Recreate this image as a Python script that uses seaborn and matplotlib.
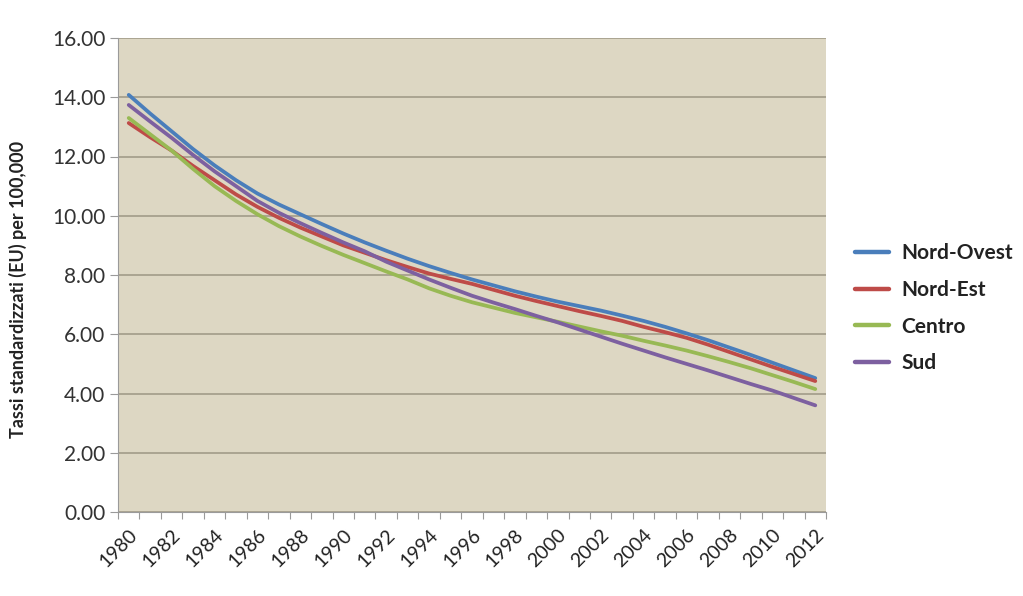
import matplotlib
matplotlib.use("Agg")
import matplotlib.pyplot as plt
import seaborn as sns
import pandas as pd
import numpy as np

years = list(range(1980, 2013))
nord_ovest = [14.08, 13.45, 12.85, 12.25, 11.7, 11.2, 10.75, 10.38, 10.05, 9.72, 9.4,
              9.1, 8.82, 8.55, 8.3, 8.07, 7.85, 7.65, 7.45, 7.27, 7.1, 6.95, 6.8,
              6.63, 6.45, 6.25, 6.03, 5.8, 5.55, 5.3, 5.04, 4.78, 4.52]
nord_est = [13.13, 12.65, 12.2, 11.68, 11.2, 10.72, 10.3, 9.93, 9.6, 9.3, 9.0,
            8.75, 8.5, 8.27, 8.05, 7.87, 7.7, 7.5, 7.3, 7.12, 6.95, 6.78, 6.62,
            6.45, 6.25, 6.07, 5.88, 5.65, 5.4, 5.15, 4.9, 4.66, 4.42]
centro = [13.3, 12.75, 12.2, 11.58, 11.0, 10.5, 10.05, 9.65, 9.3, 8.98, 8.68,
          8.4, 8.12, 7.85, 7.55, 7.3, 7.08, 6.9, 6.72, 6.57, 6.42, 6.26, 6.1,
          5.95, 5.78, 5.62, 5.45, 5.26, 5.06, 4.85, 4.62, 4.39, 4.15]
sud = [13.74, 13.18, 12.63, 12.05, 11.5, 11.0, 10.5, 10.1, 9.75, 9.42, 9.1,
       8.8, 8.45, 8.15, 7.85, 7.57, 7.3, 7.07, 6.85, 6.62, 6.4, 6.16, 5.92,
       5.68, 5.45, 5.22, 5.0, 4.78, 4.55, 4.32, 4.1, 3.85, 3.6]
series_names = ["Nord-Ovest", "Nord-Est", "Centro", "Sud"]
colors = ["#4a7ebb", "#be4b48", "#98b954", "#7d60a0"]
y_ticks = [0, 2, 4, 6, 8, 10, 12, 14, 16]
x_labels = list(range(1980, 2013, 2))
y_title = "Tassi standardizzati (EU) per 100,000"

df = pd.DataFrame({
    "year": years * 4,
    "value": nord_ovest + nord_est + centro + sud,
    "region": sum([[n] * len(years) for n in series_names], []),
})

sns.set_theme(style="white")
plt.rcParams["font.family"] = ["Lato", "DejaVu Sans"]

fig = plt.figure(figsize=(10.23, 5.96), dpi=100)
ax = fig.add_axes([118 / 1023, 84 / 596, 708 / 1023, 474 / 596])
ax.set_facecolor("#ddd7c3")

sns.lineplot(data=df, x="year", y="value", hue="region", hue_order=series_names,
             palette=colors, linewidth=2.7, ax=ax, legend=True)

ax.set_xlim(1979.5, 2012.5)
ax.set_ylim(0, 16)
ax.set_yticks(y_ticks)
ax.set_yticklabels([f"{v:.2f}" for v in y_ticks], fontsize=15, color="#333333")
ax.set_xticks(x_labels)
ax.set_xticklabels([str(v) for v in x_labels], rotation=45, ha="right",
                   rotation_mode="anchor", fontsize=14, color="#222222")
ax.set_xticks(np.arange(1979.5, 2013, 1.0), minor=True)
ax.tick_params(axis="x", which="major", length=0, pad=10)
ax.tick_params(axis="x", which="minor", length=5, color="#9a9a9a", width=0.8, bottom=True)
ax.tick_params(axis="y", which="major", length=6, color="#9a9a9a", width=0.8, left=True, pad=3)
ax.grid(axis="y", color="#aaa491", linewidth=1.4)
ax.set_axisbelow(True)
for s in ["top", "right"]:
    ax.spines[s].set_visible(False)
for s in ["left", "bottom"]:
    ax.spines[s].set_color("#9a9a9a")
    ax.spines[s].set_linewidth(0.8)

ax.set_xlabel("")
ax.set_ylabel(y_title, fontsize=13, fontweight="bold", color="#222222")
ax.yaxis.set_label_coords(-0.128, 0.47)

leg = ax.legend(loc="center left", bbox_to_anchor=(1.015, 0.43), frameon=False,
                fontsize=15, handlelength=1.6, labelspacing=0.8, handletextpad=0.6)
for t in leg.get_texts():
    t.set_fontweight("bold")
    t.set_color("#222222")
for line in leg.get_lines():
    line.set_linewidth(3.2)

fig.savefig("out.png", dpi=100, facecolor="white")
